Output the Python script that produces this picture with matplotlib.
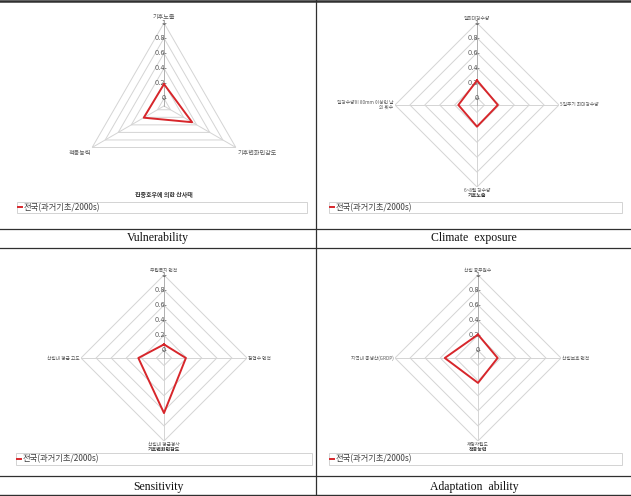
import numpy as np
import matplotlib
matplotlib.use("Agg")
import matplotlib.pyplot as plt
from matplotlib.lines import Line2D

# ---------------- data ----------------
series_name = "전국(과거기초/2000s)"

vul_title = "집중호우에 의한 산사태"
vul_cats = ["기후노출", "기후변화민감도", "적응능력"]
vul_vals = [0.19, 0.33, 0.21]

exp_title = "기후노출"
exp_cats = ["일최대강수량", "5일주기 최대강수량", "6~8월 강수량", "일강수량이 80mm 이상인 날\n의 횟수"]
exp_vals = [0.23, 0.18, 0.19, 0.15]

sen_title = "기후변화민감도"
sen_cats = ["무립목지 면적", "침엽수 면적", "산림내 평균경사", "산림내 평균 고도"]
sen_vals = [0.08, 0.19, 0.63, 0.24]

ada_title = "적응능력"
ada_cats = ["산림 공무원수", "산림보호 면적", "재정자립도", "지역내 총생산(GRDP)"]
ada_vals = [0.21, 0.16, 0.23, 0.34]

r_ticks = [0, 0.2, 0.4, 0.6, 0.8, 1.0]
r_tick_labels = ["0", "0.2", "0.4", "0.6", "0.8", "1"]
r_min, r_max = -0.1, 1.0

captions = ["Vulnerability", "Climate  exposure", "Sensitivity", "Adaptation  ability"]

# ---------------- figure ----------------
W, H = 631, 496
fig = plt.figure(figsize=(W / 100, H / 100), dpi=100)
fig.patch.set_facecolor("white")

KR = ["Noto Sans CJK KR", "DejaVu Sans"]
GRID = "#d4d4d4"
TXT = "#595959"
RED = "#d7262b"


def px_box(cx, cy, R):
    return [(cx - R) / W, 1 - (cy + R) / H, 2 * R / W, 2 * R / H]


def radar(cx, cy, R, cats, vals, lab_fs, title=None, title_fs=4.3, bottom_title=None,
          legend_box=None):
    ax = fig.add_axes(px_box(cx, cy, R), projection="polar")
    ax.set_theta_zero_location("N")
    ax.set_theta_direction(-1)
    ax.set_ylim(r_min, r_max)
    ax.grid(False)
    ax.set_xticks([])
    ax.set_yticks([])
    ax.spines["polar"].set_visible(False)
    ax.patch.set_alpha(0)
    n = len(cats)
    th = np.linspace(0, 2 * np.pi, n, endpoint=False)
    thc = np.append(th, th[0])
    # polygon grid
    for lv in r_ticks:
        ax.plot(thc, [lv] * (n + 1), color=GRID, lw=0.7, zorder=1)
    # spokes
    for t in th:
        ax.plot([t, t], [r_min, r_max], color=GRID, lw=0.7, zorder=1)
    # axis ticks and labels along the top spoke
    ax.plot([0] * len(r_ticks), r_ticks, ls="none", marker="_", ms=3, mew=0.6,
            color="#8c8c8c", zorder=2)
    ax.plot([0, 0], [r_min, r_max], color="#b0b0b0", lw=0.7, zorder=2)
    for lv, lb in zip(r_ticks, r_tick_labels):
        ax.annotate(lb, xy=(0, lv), xytext=(1.2, 0), textcoords="offset points",
                    ha="right", va="center", fontsize=4.8, color=TXT,
                    annotation_clip=False)
    # data
    vc = list(vals) + [vals[0]]
    line, = ax.plot(thc, vc, color=RED, lw=1.4, zorder=3, label=series_name)
    # category labels
    for t, c in zip(th, cats):
        s, co = np.sin(t), np.cos(t)
        if abs(s) < 1e-6 and co > 0:
            off, ha, va = (0, 1.5), "center", "bottom"
        elif abs(s) < 1e-6:
            off, ha, va = (0, -1.0), "center", "top"
        elif s > 0:
            off, ha, va = (1.0, -1.0 if co < -0.1 else 0), "left", ("top" if co < -0.1 else "center")
        else:
            off, ha, va = (-1.0, -1.0 if co < -0.1 else 0), "right", ("top" if co < -0.1 else "center")
        ax.annotate(c, xy=(t, r_max), xytext=off, textcoords="offset points",
                    ha=ha, va=va, fontsize=lab_fs, color=TXT, family=KR,
                    linespacing=1.0, annotation_clip=False, multialignment="right")
    if bottom_title:
        ax.annotate(bottom_title, xy=(np.pi, r_max), xytext=(0, -4.2),
                    textcoords="offset points", ha="center", va="top",
                    fontsize=3.6, fontweight="bold", color="#333333", family=KR,
                    annotation_clip=False)
    if title:
        fig.text(title[1] / W, 1 - title[2] / H, title[0], ha="center", va="center",
                 fontsize=title_fs, fontweight="bold", color="#333333", family=KR)
    if legend_box:
        x0, y0, x1, y1 = legend_box
        leg = ax.legend(handles=[line], loc="center",
                        bbox_to_anchor=(x0 / W, 1 - y1 / H, (x1 - x0) / W, (y1 - y0) / H),
                        bbox_transform=fig.transFigure, mode="expand", borderaxespad=0,
                        fancybox=False, frameon=True, edgecolor="#c8c8c8",
                        prop={"family": KR, "size": 6}, handlelength=0.5,
                        handletextpad=0.2, borderpad=0.15)
        leg.get_frame().set_linewidth(0.7)
        for t in leg.get_texts():
            t.set_color("#404040")
    return ax


radar(164, 106, 83, vul_cats, vul_vals, 4.4, title=(vul_title, 164, 195),
      legend_box=(17, 202, 307, 213))
radar(477, 105, 82, exp_cats, exp_vals, 3.4, bottom_title=exp_title,
      legend_box=(329, 202, 622, 213))
radar(164, 358, 83, sen_cats, sen_vals, 3.4, bottom_title=sen_title,
      legend_box=(16, 453, 312, 465))
radar(478, 358, 83, ada_cats, ada_vals, 3.4, bottom_title=ada_title,
      legend_box=(329, 453, 622, 465))

# ---------------- table rules and captions ----------------
def hline(y, lw=0.9, color="#303030"):
    fig.add_artist(Line2D([0, 1], [1 - y / H, 1 - y / H], transform=fig.transFigure,
                          color=color, lw=lw))


hline(1.2, lw=1.8)
hline(228.5)
hline(247.5)
hline(475.5)
hline(495, lw=1.0)
fig.add_artist(Line2D([316 / W, 316 / W], [0, 1], transform=fig.transFigure,
                      color="#303030", lw=0.9))

cap_pos = [(158, 238), (474, 238), (158, 487), (474, 487)]
for (x, y), c in zip(cap_pos, captions):
    fig.text(x / W, 1 - y / H, c, ha="center", va="center", fontsize=8.5,
             family="Liberation Serif", color="#111111")

fig.savefig("out.png", dpi=100, facecolor="white")
